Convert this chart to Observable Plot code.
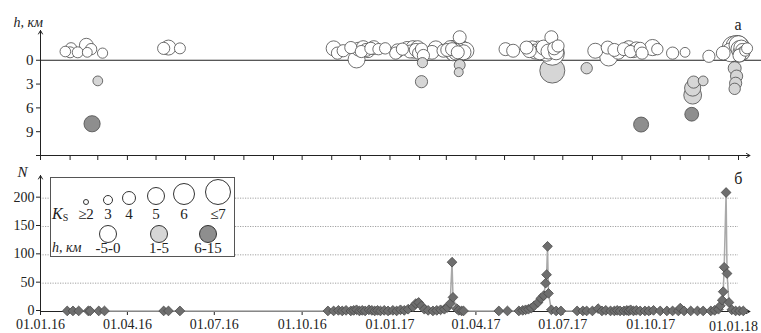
<!DOCTYPE html>
<html><head><meta charset="utf-8">
<script src="https://cdn.jsdelivr.net/npm/d3@7"></script>
<script src="https://cdn.jsdelivr.net/npm/@observablehq/plot@0.6"></script>
<style>
body{margin:0;background:#fff;}
#wrap{position:relative;width:761px;height:333px;overflow:hidden;}
#wrap svg{position:absolute;left:0;font-family:"Liberation Serif","Times New Roman","DejaVu Serif",serif;}
#wrap svg text{font-family:"Liberation Serif","Times New Roman","DejaVu Serif",serif !important;}
</style></head><body><div id="wrap"></div>
<script>
// ---- top panel (а): events: date, depth h (km), energy class Ks
const eventDate = [
"2016-01-27","2016-02-01","2016-02-02","2016-02-09","2016-02-18","2016-02-19","2016-02-23","2016-03-06","2016-03-01","2016-02-24",
"2016-05-09","2016-05-14","2016-05-26",
"2016-11-03","2016-11-07","2016-11-13","2016-11-21","2016-11-27","2016-11-29","2016-12-02","2016-12-04","2016-12-07","2016-12-09",
"2016-12-12","2016-12-15","2016-12-20","2016-12-27","2017-01-07","2017-01-09","2017-01-14","2017-01-19","2017-01-22","2017-01-25",
"2017-01-26","2017-01-28","2017-01-30","2017-01-31","2017-02-02","2017-02-03","2017-02-05","2017-02-04","2017-02-03","2017-02-14",
"2017-02-18","2017-02-26","2017-03-02","2017-03-05","2017-03-07","2017-03-07","2017-03-08","2017-03-09","2017-03-10","2017-03-11",
"2017-03-12","2017-03-13","2017-03-15","2017-03-15","2017-03-14","2017-03-16","2017-03-19","2017-03-21",
"2017-05-02","2017-05-10","2017-05-24","2017-05-27","2017-05-30","2017-06-02","2017-06-05","2017-06-07","2017-06-09","2017-06-11",
"2017-06-13","2017-06-14","2017-06-15","2017-06-16","2017-06-17","2017-06-19","2017-06-20","2017-06-20","2017-06-22","2017-06-24",
"2017-06-26","2017-07-26",
"2017-08-04","2017-08-17","2017-08-18","2017-08-24","2017-08-28","2017-09-03","2017-09-08","2017-09-10","2017-09-13","2017-09-16",
"2017-09-20","2017-09-22","2017-09-21","2017-10-03","2017-10-08","2017-10-24","2017-11-06","2017-11-13","2017-11-14","2017-11-14",
"2017-11-15","2017-11-25","2017-12-01","2017-12-16",
"2017-12-24","2017-12-27","2017-12-29","2017-12-30","2017-12-31","2018-01-01","2018-01-01","2018-01-02","2018-01-03","2018-01-04",
"2018-01-05","2018-01-06","2018-01-08","2018-01-10","2018-01-02","2017-12-30","2017-12-29","2017-12-28","2017-12-28"
];
const eventDepth = [
-1.1,-1.0,-1.5,-1.0,-1.9,-1.0,-1.4,-0.9,2.6,8.0,
-1.5,-1.6,-1.5,
-1.5,-0.9,-1.2,-1.6,-0.1,-1.4,-1.1,-1.6,-1.3,-1.2,
-1.5,-1.6,-1.4,-1.5,-0.9,-1.2,-1.4,-1.5,-1.1,-1.6,
-1.2,-1.3,-1.6,-0.9,-1.0,-1.4,-0.6,0.3,2.7,-1.0,
-1.5,-1.2,-1.3,-1.6,-1.0,-1.4,-0.8,-1.5,-1.2,-0.9,
-1.3,-1.0,-2.9,0.6,1.5,-1.5,-1.0,-1.2,
-1.4,-1.2,-1.6,-1.2,-1.5,-1.1,-1.4,-1.0,-1.3,-1.6,
-1.2,-0.9,-1.4,-1.1,-1.5,-2.9,1.3,-0.9,-1.5,-1.0,
-1.8,1.0,
-1.2,-1.6,-0.4,-1.3,-1.0,-1.4,-1.6,-1.1,-1.2,-1.5,
-1.5,-0.9,8.1,-1.6,-1.4,-0.9,-1.0,6.8,4.4,3.5,
2.75,2.6,-0.5,-0.9,
-1.0,-1.6,-1.4,-1.8,-1.5,-1.2,-1.9,-1.4,-1.0,-1.6,
-1.3,-0.9,-1.2,-1.5,-0.6,2.0,2.9,3.6,1.0
];
const eventKs = [
3.4,3.5,3.6,3.5,4.2,3.2,3.6,3.3,3.2,4.8,
3.8,4.5,3.5,
4.5,3.8,3.8,3.8,5.0,4.2,3.8,4.2,4.0,4.2,
3.8,4.2,3.6,3.6,3.8,4.2,3.8,4.2,4.0,4.2,
4.5,4.0,4.2,3.8,4.2,3.8,3.8,3.3,3.8,4.2,
4.5,4.0,4.0,4.2,4.5,4.0,4.2,4.8,4.5,4.2,
4.8,4.0,4.0,3.5,3.0,5.0,4.5,5.0,
4.0,4.0,4.0,4.2,4.5,4.5,4.8,4.5,5.0,4.5,
5.0,4.8,5.2,4.5,5.0,4.0,7.0,6.8,4.0,4.5,
3.8,3.6,
4.5,4.0,5.2,4.0,4.2,4.0,4.2,3.8,4.2,4.0,
3.8,3.8,4.5,4.8,3.6,3.8,3.2,4.2,5.2,4.8,
3.8,3.2,3.8,4.2,
5.5,6.5,7.0,6.0,7.0,6.5,5.5,5.0,4.5,4.5,
4.0,4.0,3.5,3.5,4.0,3.8,3.8,3.6,4.0
];
const depthTicks = [0, 3, 6, 9];

// ---- bottom panel (б): events per day
const dayDate = [
"2016-01-29","2016-02-04","2016-02-10","2016-02-20","2016-02-22","2016-03-02","2016-03-08","2016-05-09","2016-05-14","2016-05-26",
"2016-10-28","2016-11-03","2016-11-08","2016-11-12","2016-11-16","2016-11-21","2016-11-24","2016-11-27","2016-11-30","2016-12-03",
"2016-12-06","2016-12-10","2016-12-13","2016-12-16","2016-12-19","2016-12-22","2016-12-26","2016-12-30","2017-01-04","2017-01-08",
"2017-01-12","2017-01-16","2017-01-20","2017-01-25","2017-01-28","2017-01-31","2017-02-03","2017-02-06","2017-02-10","2017-02-15",
"2017-02-19","2017-02-23","2017-02-27","2017-03-02","2017-03-05","2017-03-07","2017-03-08","2017-03-12","2017-03-14","2017-03-17",
"2017-03-19",
"2017-04-25","2017-05-04","2017-05-16","2017-05-20","2017-05-23","2017-05-26","2017-05-29","2017-06-01","2017-06-05","2017-06-08",
"2017-06-11","2017-06-13","2017-06-14","2017-06-15","2017-06-16","2017-06-19","2017-06-24","2017-06-29",
"2017-07-16","2017-07-22","2017-07-26","2017-08-01","2017-08-07","2017-08-11","2017-08-15","2017-08-20","2017-08-24","2017-08-27",
"2017-08-30","2017-09-03","2017-09-06","2017-09-08","2017-09-10","2017-09-13","2017-09-16","2017-09-20","2017-09-25","2017-09-29",
"2017-10-04","2017-10-11","2017-10-18","2017-10-24","2017-10-30","2017-11-01","2017-11-05","2017-11-12","2017-11-19","2017-11-25",
"2017-12-03","2017-12-07","2017-12-11","2017-12-13","2017-12-15","2017-12-16","2017-12-17","2017-12-19","2017-12-20","2017-12-22",
"2017-12-25","2017-12-29","2018-01-02","2018-01-06"
];
const dayCount = [
1,1,1,1,1,1,1,1,1,1,
1,1,2,1,2,1,2,3,1,2,
1,3,2,1,2,1,2,1,2,1,
3,2,4,8,14,16,10,4,2,1,
2,3,4,7,14,87,25,5,2,1,
1,
1,1,1,2,3,4,6,10,16,23,
28,50,65,115,32,3,1,1,
1,1,1,1,5,1,2,1,1,2,
1,1,2,1,3,1,2,1,1,1,
2,1,1,1,1,6,1,1,1,1,
1,2,4,10,20,35,78,210,67,16,
3,1,1,1
];
const countTicks = [0, 50, 100, 150, 200];
const xTickLabels = ["2016-01-01","2016-04-01","2016-07-01","2016-10-01","2017-01-01","2017-04-01","2017-07-01","2017-10-01","2018-01-01"];

// ---- legend
const ksClasses = [2, 3, 4, 5, 6, 7];
const ksLabels = ["≥2", "3", "4", "5", "6", "≤7"];
const depthClasses = ["-5-0", "1-5", "6-15"];
const depthColors = ["#ffffff", "#d6d6d6", "#8e8e8e"];

const depthClass = h => h <= 0 ? depthClasses[0] : h <= 5.5 ? depthClasses[1] : depthClasses[2];
const events = eventDate.map((d, i) => ({date: new Date(d), h: eventDepth[i], ks: eventKs[i], cls: depthClass(eventDepth[i])}));
const days = dayDate.map((d, i) => ({date: new Date(d), n: dayCount[i]}));
const xTicks = xTickLabels.map(d => new Date(d));
const fmt = d3.utcFormat("%d.%m.%y");

const t0 = new Date("2016-01-01"), t1 = new Date("2018-01-01");
const xEnd = new Date("2018-01-13"), xLineEnd = new Date("2018-01-28");
const ink = "#222";
const serif = "Liberation Serif, Times New Roman, DejaVu Serif, serif";
const font = {fontFamily: serif, fontSize: "14px", color: ink, background: "none", overflow: "visible"};

const topPlot = Plot.plot({
  width: 761, height: 160, marginLeft: 40, marginRight: 23, marginTop: 30, marginBottom: 5,
  style: font,
  x: {type: "utc", domain: [t0, t1], label: null},
  y: {domain: [-3.75, 12], reverse: true, label: null},
  r: {type: "linear", domain: [2, 7], range: [2.5, 12.5]},
  color: {domain: depthClasses, range: depthColors},
  marks: [
    Plot.axisX({ticks: d3.utcMonth.range(t0, new Date("2018-01-02")), tickSize: 5, tickFormat: () => "", anchor: "bottom", stroke: ink, label: null}),
    Plot.axisY({ticks: [...depthTicks, 12], tickFormat: d => d === 12 ? "" : String(d), tickSize: 4, tickPadding: 3, anchor: "left", stroke: ink, label: null, fontSize: 15}),
    Plot.ruleY([0], {x1: () => t0, x2: () => xLineEnd, stroke: ink, strokeWidth: 1}),
    Plot.arrow([0], {x1: () => t0, x2: () => t0, y1: () => 12, y2: () => -3.75, stroke: ink, strokeWidth: 1, headLength: 6}),
    Plot.arrow([0], {x1: () => t0, x2: () => xEnd, y1: () => 12, y2: () => 12, stroke: ink, strokeWidth: 1, headLength: 6}),
    Plot.dot(events, {x: "date", y: "h", r: "ks", fill: "cls", stroke: "#4a4a4a", strokeWidth: 0.8}),
    Plot.text(["а"], {frameAnchor: "top-right", dx: 3, dy: -6, lineAnchor: "middle", fontSize: 16, fill: ink}),
    Plot.text(["h, км"], {frameAnchor: "top-left", dx: -27, dy: -8, lineAnchor: "middle", textAnchor: "start", fontStyle: "italic", fontSize: 14, fill: ink})
  ]
});

const bottomPlot = Plot.plot({
  width: 761, height: 173, marginLeft: 40, marginRight: 23, marginTop: 15, marginBottom: 22,
  style: font,
  x: {type: "utc", domain: [t0, t1], label: null},
  y: {domain: [0, 240], label: null},
  marks: [
    Plot.ruleY(countTicks.filter(v => v > 0), {x1: () => t0, x2: () => t1, stroke: "#8a8a8a", strokeWidth: 0.8, strokeDasharray: "1.2,1.3"}),
    Plot.axisY({ticks: countTicks, tickSize: 4, tickPadding: 2, anchor: "left", stroke: ink, label: null, fontSize: 14, dy: -1}),
    Plot.axisX({ticks: xTicks, tickFormat: d => +d === +t1 ? "" : fmt(d), tickSize: 4, tickPadding: 4, anchor: "bottom", stroke: ink, label: null, fontSize: 14}),
    Plot.text([t1], {x: d => d, text: d => fmt(d), frameAnchor: "bottom", dy: 15, dx: -5, lineAnchor: "middle", fontSize: 14, fill: ink}),
    Plot.arrow([0], {x1: () => t0, x2: () => t0, y1: () => 0, y2: () => 240, stroke: ink, strokeWidth: 1, headLength: 6}),
    Plot.arrow([0], {x1: () => t0, x2: () => xEnd, y1: () => 0, y2: () => 0, stroke: ink, strokeWidth: 1, headLength: 6}),
    Plot.line(days, {x: "date", y: "n", stroke: "#a9a9a9", strokeWidth: 1.5}),
    Plot.dot(days, {x: "date", y: "n", symbol: "diamond2", r: 4.4, fill: "#6e6e6e", stroke: "#4a4a4a", strokeWidth: 0.8}),
    Plot.text(["б"], {frameAnchor: "top-right", dx: 4, dy: 3, lineAnchor: "middle", fontSize: 16, fill: ink}),
    Plot.text(["N"], {frameAnchor: "top-left", dx: -18, dy: -3, lineAnchor: "middle", textAnchor: "middle", fontStyle: "italic", fontSize: 15, fill: ink})
  ]
});

const wrap = document.getElementById("wrap");
topPlot.style.top = "0px";
bottomPlot.style.top = "160px";
wrap.appendChild(topPlot);
wrap.appendChild(bottomPlot);

// legend drawn with the same r and color scales
const rScale = topPlot.scale("r"), fillScale = topPlot.scale("color");
const leg = d3.select(wrap).append("svg").attr("width", 761).attr("height", 333)
  .style("top", "0px").style("fill", ink);
leg.append("rect").attr("x", 50.5).attr("y", 177.5).attr("width", 184).attr("height", 79)
  .attr("fill", "#fff").attr("stroke", "#555").attr("stroke-width", 1);
const ksX = [86, 108, 129, 156, 184, 218];
ksClasses.forEach((k, i) => {
  const r = rScale.apply(k);
  leg.append("circle").attr("cx", ksX[i]).attr("cy", 204.5 - r).attr("r", r)
    .attr("fill", "#fff").attr("stroke", "#333").attr("stroke-width", 1);
  leg.append("text").attr("x", ksX[i]).attr("y", 219).attr("text-anchor", "middle")
    .attr("font-size", 15).text(ksLabels[i]);
});
const kt = leg.append("text").attr("x", 52).attr("y", 219).attr("font-size", 16);
kt.append("tspan").attr("font-style", "italic").text("K");
kt.append("tspan").attr("font-size", 10).attr("dy", 2).text("S");
const dX = [108, 159, 208];
depthClasses.forEach((c, i) => {
  leg.append("circle").attr("cx", dX[i]).attr("cy", 234).attr("r", rScale.apply(5))
    .attr("fill", fillScale.apply(c)).attr("stroke", "#333").attr("stroke-width", 1);
  leg.append("text").attr("x", dX[i]).attr("y", 253).attr("text-anchor", "middle")
    .attr("font-size", 15).text(c);
});
leg.append("text").attr("x", 52).attr("y", 252).attr("font-size", 14)
  .attr("font-style", "italic").text("h, км");

d3.select(wrap).selectAll("text").attr("font-family", serif);
</script>
</body></html>
